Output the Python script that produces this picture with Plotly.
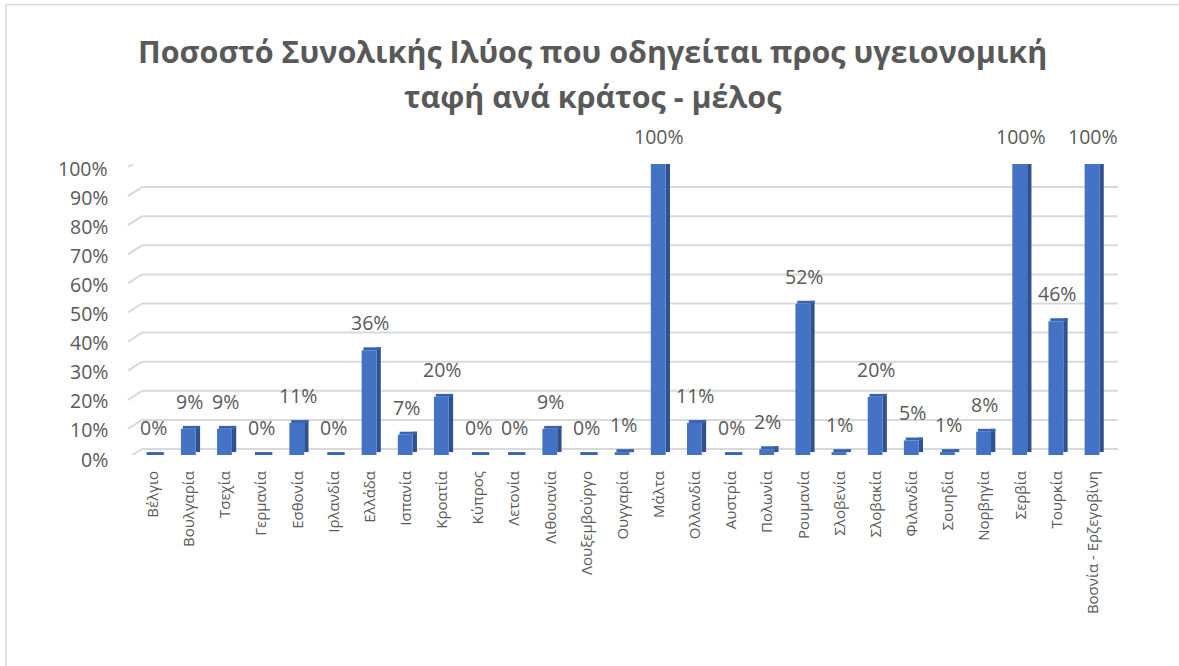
import plotly.graph_objects as go

countries = [
    "Βέλγιο", "Βουλγαρία", "Τσεχία", "Γερμανία", "Εσθονία", "Ιρλανδία",
    "Ελλάδα", "Ισπανία", "Κροατία", "Κύπρος", "Λετονία", "Λιθουανία",
    "Λουξεμβούργο", "Ουγγαρία", "Μάλτα", "Ολλανδία", "Αυστρία", "Πολωνία",
    "Ρουμανία", "Σλοβενία", "Σλοβακία", "Φιλανδία", "Σουηδία", "Νορβηγία",
    "Σερβία", "Τουρκία", "Βοσνία - Ερζεγοβίνη",
]
share_pct = [
    0, 9, 9, 0, 11, 0,
    36, 7, 20, 0, 0, 9,
    0, 1, 100, 11, 0, 2,
    52, 1, 20, 5, 1, 8,
    100, 46, 100,
]
y_ticks = [0, 10, 20, 30, 40, 50, 60, 70, 80, 90, 100]
y_tick_labels = [f"{v}%" for v in y_ticks]
title_lines = [
    "Ποσοστό Συνολικής Ιλύος που οδηγείται προς υγειονομική",
    "ταφή ανά κράτος - μέλος",
]

FONT = "'Open Sans', sans-serif"
GREY = "#595959"
GRID = "#D9D9D9"
FRONT = "#4472C4"
SIDE = "#2F528F"
TOP = "#3A63AD"
DEPTH = 1.0  # column depth in axis units
WALL_DX, WALL_DY = 7, 6  # back-wall offset of the 3-D gridlines, px

fig = go.Figure()

# right-hand side face of each column
fig.add_trace(go.Bar(
    x=countries, y=share_pct, base=[DEPTH] * len(share_pct),
    width=0.12, offset=0.18, marker=dict(color=SIDE, line=dict(width=0)),
    hoverinfo="skip", showlegend=False, cliponaxis=False,
))
# top face of each column
fig.add_trace(go.Bar(
    x=countries, y=[DEPTH] * len(share_pct), base=share_pct,
    width=0.48, offset=-0.18, marker=dict(color=TOP, line=dict(width=0)),
    hoverinfo="skip", showlegend=False, cliponaxis=False,
))
# front face
fig.add_trace(go.Bar(
    x=countries, y=share_pct,
    width=0.41, offset=-0.23, marker=dict(color=FRONT, line=dict(width=0)),
    hovertemplate="%{x}: %{y}%<extra></extra>", showlegend=False,
))

# value labels above each column
annotations = [
    dict(x=c, y=v, xref="x", yref="y", text=f"{v}%",
         showarrow=False, yanchor="bottom", xanchor="center", yshift=12,
         font=dict(family=FONT, size=19.5, color=GREY))
    for c, v in zip(countries, share_pct)
]

# percentage axis labels, sitting on the front plane of the 3-D floor
for t, lbl in zip(y_ticks, y_tick_labels):
    annotations.append(dict(
        x=0, y=t, xref="paper", yref="y", text=lbl,
        showarrow=False, xanchor="right", yanchor="middle",
        xshift=-25, yshift=-4,
        font=dict(family=FONT, size=19.5, color=GREY),
    ))

# two-line chart title
for line, ypos in zip(title_lines, [1.39, 1.235]):
    annotations.append(dict(
        x=0.469, y=ypos, xref="paper", yref="paper", text=f"<b>{line}</b>",
        showarrow=False, xanchor="center", yanchor="middle",
        font=dict(family=FONT, size=30.5, color=GREY),
    ))

# gridlines on the back wall plus the short slanted side-wall segment
shapes = []
for t in y_ticks:
    shapes.append(dict(
        type="line", layer="below", xref="paper", yref="y",
        ysizemode="pixel", yanchor=t, y0=WALL_DY, y1=WALL_DY,
        x0=WALL_DX / 975, x1=1 + WALL_DX / 975,
        line=dict(color=GRID, width=2),
    ))
    shapes.append(dict(
        type="line", layer="below", xref="paper", yref="y",
        xsizemode="pixel", xanchor=0, x0=-WALL_DX, x1=WALL_DX,
        ysizemode="pixel", yanchor=t, y0=-3, y1=WALL_DY,
        line=dict(color=GRID, width=2),
    ))
# chart area border
shapes.append(dict(
    type="rect", xref="paper", yref="paper", layer="below",
    x0=-0.1323, x1=1.2, y0=-1.0, y1=1.548,
    line=dict(color=GRID, width=1.5), fillcolor="rgba(0,0,0,0)",
))

fig.update_layout(
    width=1179, height=666,
    barmode="overlay",
    paper_bgcolor="white", plot_bgcolor="white",
    margin=dict(l=135, r=68, t=164, b=211),
    font=dict(family=FONT, color=GREY),
    annotations=annotations,
    shapes=shapes,
)

fig.update_xaxes(
    type="category", range=[-0.5, len(countries) - 0.5],
    tickangle=-90, tickfont=dict(family=FONT, size=15, color=GREY),
    showgrid=False, showline=False, ticks="", ticklabelstandoff=12,
)
fig.update_yaxes(
    range=[0, 100], tickvals=y_ticks, showticklabels=False,
    showgrid=False, zeroline=False, showline=False, ticks="",
)

fig.write_html("out.html")
